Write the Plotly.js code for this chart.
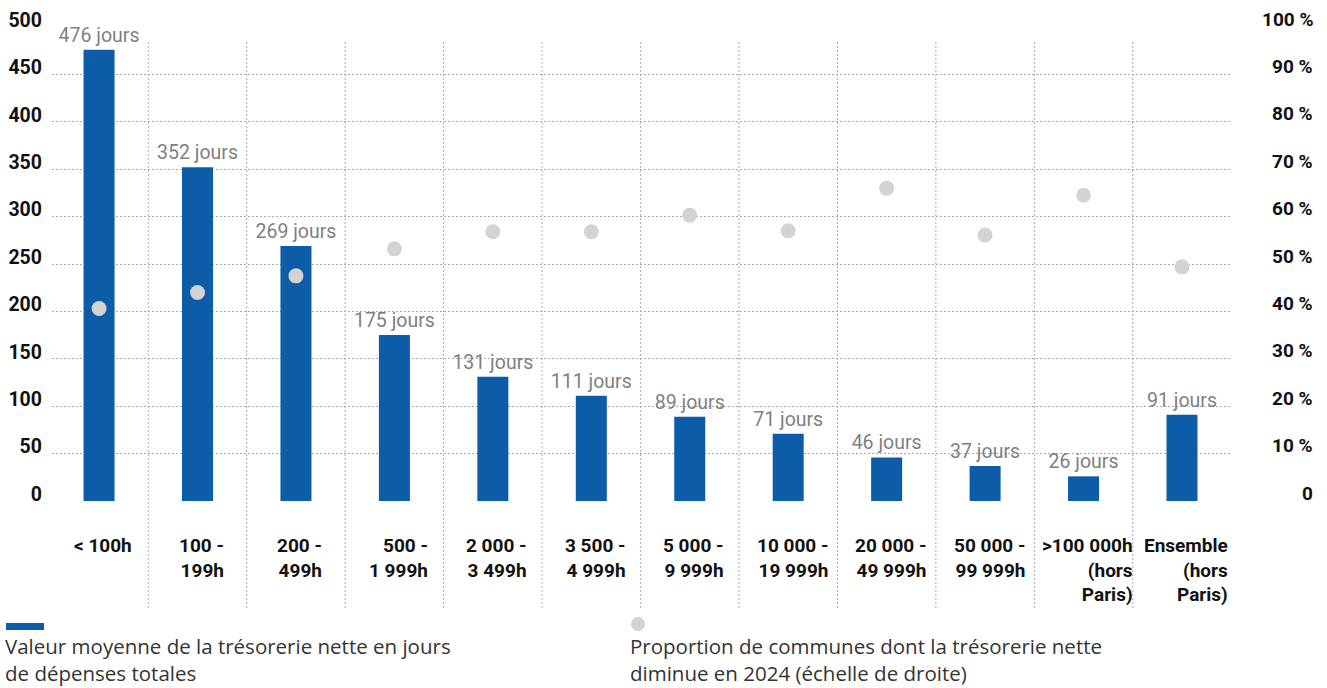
<!DOCTYPE html>
<html>
<head>
<meta charset="utf-8">
<script src="https://cdn.plot.ly/plotly-3.0.1.min.js"></script>
<style>
  html, body { margin: 0; padding: 0; background: #fff; }
  #chart { width: 1327px; height: 688px; }
</style>
</head>
<body>
<div id="chart"></div>
<script>
// ---- Data ----
const categories = ['< 100h', '100 - 199h', '200 - 499h', '500 - 1 999h', '2 000 - 3 499h',
  '3 500 - 4 999h', '5 000 - 9 999h', '10 000 - 19 999h', '20 000 - 49 999h',
  '50 000 - 99 999h', '>100 000h (hors Paris)', 'Ensemble (hors Paris)'];
const tickLabels = ['&lt; 100h', '100 -<br>199h', '200 -<br>499h', '500 -<br>1 999h', '2 000 -<br>3 499h',
  '3 500 -<br>4 999h', '5 000 -<br>9 999h', '10 000 -<br>19 999h', '20 000 -<br>49 999h',
  '50 000 -<br>99 999h', '&gt;100 000h<br>(hors<br>Paris)', 'Ensemble<br>(hors<br>Paris)'];
const joursValues = [476, 352, 269, 175, 131, 111, 89, 71, 46, 37, 26, 91];
const joursLabels = joursValues.map(v => v + ' jours');
const proportionValues = [40.6, 44.0, 47.5, 53.2, 56.8, 56.8, 60.3, 57.0, 66.0, 56.1, 64.5, 49.4];
const leftTicks = [0, 50, 100, 150, 200, 250, 300, 350, 400, 450, 500];
const rightTicks = [0, 10, 20, 30, 40, 50, 60, 70, 80, 90, 100];
const rightTickText = ['0', '10 %', '20 %', '30 %', '40 %', '50 %', '60 %', '70 %', '80 %', '90 %', '100 %'];
const legendBarText = 'Valeur moyenne de la trésorerie nette en jours<br>de dépenses totales';
const legendDotText = 'Proportion de communes dont la trésorerie nette<br>diminue en 2024 (échelle de droite)';

// ---- Styles ----
const W = 1327, H = 688;
const M = { l: 52, r: 95, t: 27, b: 187 };
const PW = W - M.l - M.r, PH = H - M.t - M.b;
const px = x => (x - M.l) / PW;
const py = y => (H - M.b - y) / PH;
const BLUE = '#0d5ca8';
const DOT = '#d3d3d3';
const GRID = '#ababab';
const FONT = 'Roboto, "DejaVu Sans", sans-serif';
const LEGFONT = '"Open Sans", Roboto, sans-serif';

const traces = [
  {
    type: 'bar', x: categories, y: joursValues, yaxis: 'y',
    marker: { color: BLUE }, width: 0.315,
    text: joursLabels, textposition: 'outside', cliponaxis: false,
    constraintext: 'none',
    textfont: { family: FONT, size: 19.5, color: '#808080' },
    hoverinfo: 'x+y', showlegend: false
  },
  {
    type: 'scatter', mode: 'markers', x: categories, y: proportionValues, yaxis: 'y2',
    marker: { color: DOT, size: 15 }, cliponaxis: false, showlegend: false
  }
];

const shapes = [];
for (let i = 0; i < categories.length - 1; i++) {
  shapes.push({
    type: 'line', xref: 'x', yref: 'paper', x0: i + 0.5, x1: i + 0.5,
    y0: py(608), y1: py(40), layer: 'below',
    line: { color: GRID, width: 1, dash: '2px,2px' }
  });
}
// legend swatches
shapes.push({ type: 'rect', xref: 'paper', yref: 'paper', x0: px(6), x1: px(44), y0: py(630), y1: py(623),
  fillcolor: BLUE, line: { width: 0 } });
shapes.push({ type: 'circle', xref: 'paper', yref: 'paper', x0: px(631), x1: px(645), y0: py(631), y1: py(617),
  fillcolor: DOT, line: { width: 0 } });

const annotations = [];
categories.forEach((c, i) => {
  annotations.push({
    xref: 'x', yref: 'paper', x: i, y: py(532), xanchor: 'center', yanchor: 'top',
    xshift: 4, align: 'right', showarrow: false, text: tickLabels[i],
    font: { family: FONT, size: 19, color: '#111', weight: 'bold' }
  });
});
rightTicks.forEach((t, i) => {
  annotations.push({
    xref: 'paper', yref: 'y2', x: 1, y: t, xanchor: 'right', yanchor: 'middle',
    xshift: 83, yshift: 8, showarrow: false, text: rightTickText[i],
    font: { family: FONT, size: 19, color: '#111', weight: 'bold' }
  });
});
annotations.push({
  xref: 'paper', yref: 'paper', x: px(3), y: py(630), xanchor: 'left', yanchor: 'top',
  align: 'left', showarrow: false, text: legendBarText,
  font: { family: LEGFONT, size: 20.5, color: '#333' }
});
annotations.push({
  xref: 'paper', yref: 'paper', x: px(628), y: py(630), xanchor: 'left', yanchor: 'top',
  align: 'left', showarrow: false, text: legendDotText,
  font: { family: LEGFONT, size: 20.5, color: '#333' }
});

const layout = {
  width: W, height: H, margin: M,
  paper_bgcolor: '#fff', plot_bgcolor: '#fff',
  font: { family: FONT },
  showlegend: false,
  xaxis: {
    type: 'category', range: [-0.478, 11.508], showgrid: false, showticklabels: false,
    zeroline: false, showline: false, ticks: '', fixedrange: true
  },
  yaxis: {
    range: [0, 500], tickvals: leftTicks, showgrid: true, gridcolor: GRID, griddash: '2px,2px', gridwidth: 1,
    zeroline: false, showline: false, ticks: '',
    tickfont: { family: FONT, size: 19.5, color: '#111', weight: 'bold' },
    ticklabelshift: -7, ticklabelstandoff: 9
  },
  yaxis2: {
    range: [0, 100], overlaying: 'y', side: 'right', showgrid: false, showticklabels: false,
    zeroline: false, showline: false, ticks: ''
  },
  shapes: shapes,
  annotations: annotations
};

Plotly.newPlot('chart', traces, layout, { displayModeBar: false, staticPlot: true });
</script>
</body>
</html>
